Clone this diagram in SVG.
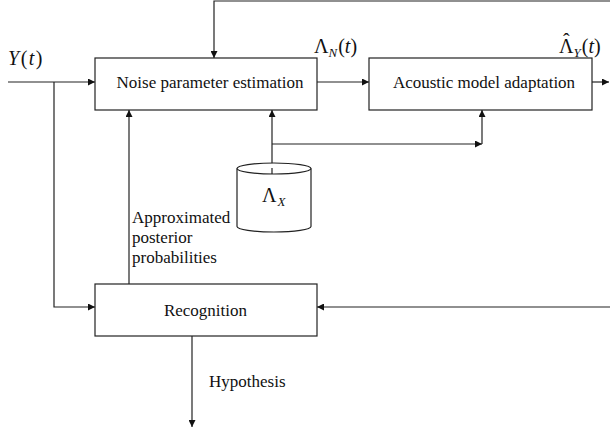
<svg xmlns="http://www.w3.org/2000/svg" width="610" height="433" viewBox="0 0 610 433">
  <defs>
    <marker id="arr" viewBox="0 0 10 10" refX="10" refY="5" markerWidth="7" markerHeight="7" markerUnits="userSpaceOnUse" orient="auto">
      <path d="M0,0 L10,5 L0,10 z" fill="#111"/>
    </marker>
    <style>
      .box { fill: #fff; stroke: #222; stroke-width: 1.2; }
      .ln { fill: none; stroke: #222; stroke-width: 1.2; }
      .arr { marker-end: url(#arr); }
      .lbl { font-family: "Liberation Serif", "Times New Roman", serif; font-size: 17px; fill: #111; }
      .mth { font-family: "Liberation Serif", "Times New Roman", serif; font-size: 20px; fill: #111; }
      .it { font-style: italic; }
      .sub { font-size: 13px; font-style: italic; }
    </style>
  </defs>
  <rect width="610" height="433" fill="#fff"/>

  <!-- connectors -->
  <g id="connectors">
    <!-- input Y(t) into noise estimation -->
    <path class="ln arr" d="M8,82 H95"/>
    <!-- branch of Y(t) to recognition -->
    <path class="ln arr" d="M54,82 V307 H95"/>
    <!-- feedback from the right edge into noise estimation -->
    <path class="ln arr" d="M610,1 H214 V58"/>
    <!-- noise estimation to adaptation -->
    <path class="ln arr" d="M317,82 H369"/>
    <!-- adapted model output -->
    <path class="ln arr" d="M592,82 H609"/>
    <!-- clean model to noise estimation -->
    <path class="ln arr" d="M272,168 V110"/>
    <!-- clean model to adaptation -->
    <path class="ln arr" d="M272,144 H482"/>
    <path class="ln arr" d="M482,144 V110"/>
    <!-- posterior probabilities back to noise estimation -->
    <path class="ln arr" d="M129,284 V110"/>
    <!-- adapted model into recognition -->
    <path class="ln arr" d="M610,307 H317"/>
    <!-- hypothesis output -->
    <path class="ln arr" d="M192,336 V427"/>
  </g>

  <g id="noise-estimation">
    <rect class="box" x="95" y="58" width="222" height="52"/>
    <text class="lbl" x="210" y="88" text-anchor="middle">Noise parameter estimation</text>
  </g>

  <g id="model-adaptation">
    <rect class="box" x="369" y="58" width="223" height="52"/>
    <text class="lbl" x="484" y="88" text-anchor="middle">Acoustic model adaptation</text>
  </g>

  <g id="recognition">
    <rect class="box" x="95" y="284" width="222" height="52"/>
    <text class="lbl" x="205.5" y="316" text-anchor="middle">Recognition</text>
  </g>

  <g id="clean-model">
    <path class="box" d="M237,168.5 V226.5 A37,5.5 0 0 0 311,226.5 V168.5"/>
    <ellipse class="box" cx="274" cy="168.5" rx="37" ry="5.5"/>
    <path class="ln" d="M272,168 V174"/>
    <text class="mth" x="262" y="202">Λ<tspan class="sub" dx="1" dy="4">X</tspan></text>
  </g>

  <!-- signal labels -->
  <g id="labels">
    <text class="mth it" x="8" y="65" letter-spacing="1.5">Y<tspan font-style="normal">(</tspan>t<tspan font-style="normal">)</tspan></text>
    <text class="mth" x="314" y="53">Λ<tspan class="sub" dy="4">N</tspan><tspan dx="1" dy="-4">(</tspan><tspan class="it">t</tspan>)</text>
    <text class="mth" x="559" y="53">Λ<tspan dx="-10.5" dy="-5">ˆ</tspan><tspan class="sub" dx="3.8" dy="9">Y</tspan><tspan dx="1" dy="-4">(</tspan><tspan class="it">t</tspan>)</text>
    <text class="lbl" x="132" y="223">Approximated</text>
    <text class="lbl" x="132" y="243">posterior</text>
    <text class="lbl" x="132" y="263">probabilities</text>
    <text class="lbl" x="209" y="387">Hypothesis</text>
  </g>
</svg>
